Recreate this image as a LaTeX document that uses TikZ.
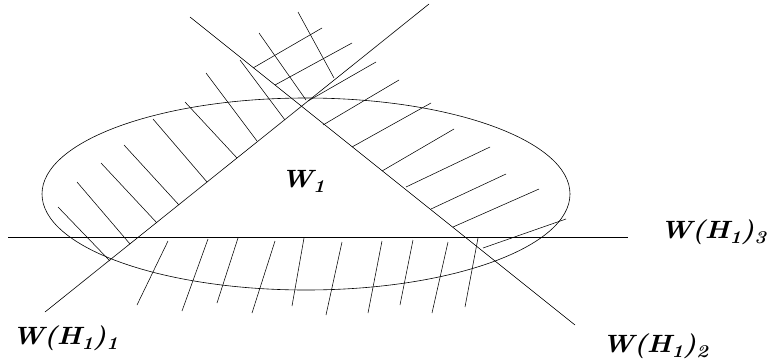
\documentclass[tikz,border=0pt]{standalone}
\usepackage{tikz}
\newcommand{\lowsub}[1]{\raisebox{-0.45ex}{\scalebox{0.72}{#1}}}
\newcommand{\widelbl}[1]{\scalebox{1.1}[1]{#1}}
\tikzset{
  thinline/.style={line width=0.6pt, black},
  hatchline/.style={line width=0.55pt, black},
  lbl/.style={font=\fontsize{25}{29}\selectfont\bfseries\itshape, inner sep=0pt}
}
\begin{document}
\begin{tikzpicture}[x=1pt,y=-1pt]
\useasboundingbox (0,0) rectangle (768,362);
% ellipse
\draw[thinline] (306,194) ellipse [x radius=264, y radius=96];
% main lines
\coordinate (l1a) at (45,312); \coordinate (l1b) at (429,4);
\coordinate (l2a) at (190,17); \coordinate (l2b) at (575,325);
\coordinate (l3a) at (8,237);  \coordinate (l3b) at (628,237);
\draw[thinline] (l1a) -- (l1b);
\draw[thinline] (l2a) -- (l2b);
\draw[thinline] (l3a) -- (l3b);
% hatching: upper left
\foreach \xa/\ya/\xb/\yb in {58/207/110/261, 77/182/130/244, 101/163/157/223,
  124/145/179/205, 153/119/207/182, 185/102/237/158, 206/73/257/141,
  240/60/285/120, 259/33/306/100, 298/12/334/78}
  \draw[hatchline] (\xa,\ya) -- (\xb,\yb);
% hatching: right
\foreach \xa/\ya/\xb/\yb in {253/68/322/28, 275/85/352/43, 308/101/376/62,
  323/125/399/80, 352/147/431/103, 382/171/454/129, 406/187/490/147,
  431/209/506/174, 453/227/539/189, 483/248/566/219}
  \draw[hatchline] (\xa,\ya) -- (\xb,\yb);
% hatching: bottom
\foreach \xa/\ya/\xb/\yb in {168/241/137/305, 208/239/182/311, 238/238/217/303,
  275/241/252/313, 304/238/292/306, 342/242/326/315, 382/241/368/313,
  413/240/400/305, 448/242/432/313, 478/238/465/307}
  \draw[hatchline] (\xa,\ya) -- (\xb,\yb);
% labels
\node[lbl] (w1) at (303,181) {\widelbl{W\lowsub{1}}};
\node[lbl] (wh1) at (65,338) {\widelbl{W(H\lowsub{1})\lowsub{1}}};
\node[lbl] (wh2) at (655,346) {\widelbl{W(H\lowsub{1})\lowsub{2}}};
\node[lbl] (wh3) at (713,232) {\widelbl{W(H\lowsub{1})\lowsub{3}}};
\end{tikzpicture}
\end{document}
